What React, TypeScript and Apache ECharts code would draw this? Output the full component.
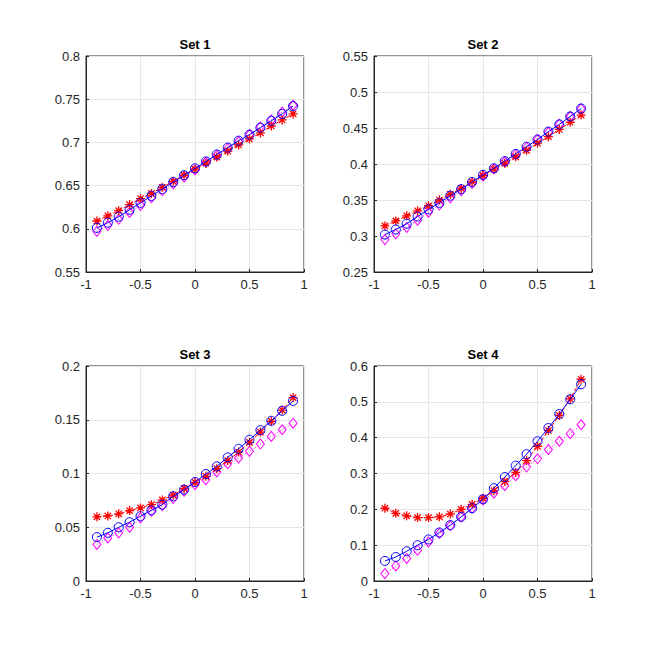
import React, { useEffect, useRef } from "react";
import * as echarts from "echarts";

const xs = [-0.9, -0.8, -0.7, -0.6, -0.5, -0.4, -0.3, -0.2, -0.1, 0, 0.1, 0.2, 0.3, 0.4, 0.5, 0.6, 0.7, 0.8, 0.9];

const titles = ["Set 1", "Set 2", "Set 3", "Set 4"];

const red1 = [0.609, 0.615, 0.621, 0.628, 0.635, 0.641, 0.648, 0.655, 0.662, 0.669, 0.676, 0.683, 0.690, 0.697, 0.704, 0.711, 0.719, 0.726, 0.733];
const blue1 = [0.601, 0.607, 0.614, 0.622, 0.630, 0.638, 0.646, 0.654, 0.662, 0.670, 0.678, 0.686, 0.694, 0.702, 0.709, 0.717, 0.725, 0.733, 0.742];
const mag1 = [0.597, 0.604, 0.611, 0.619, 0.627, 0.636, 0.644, 0.652, 0.660, 0.668, 0.677, 0.685, 0.693, 0.701, 0.709, 0.718, 0.726, 0.735, 0.743];

const red2 = [0.314, 0.321, 0.328, 0.335, 0.342, 0.350, 0.358, 0.366, 0.375, 0.384, 0.393, 0.401, 0.410, 0.419, 0.429, 0.438, 0.448, 0.458, 0.468];
const blue2 = [0.302, 0.309, 0.317, 0.327, 0.337, 0.346, 0.356, 0.365, 0.375, 0.385, 0.394, 0.404, 0.414, 0.424, 0.434, 0.445, 0.455, 0.466, 0.477];
const mag2 = [0.295, 0.303, 0.312, 0.322, 0.333, 0.343, 0.353, 0.363, 0.373, 0.383, 0.393, 0.403, 0.413, 0.423, 0.434, 0.444, 0.455, 0.466, 0.477];

const red3 = [0.0597, 0.0605, 0.0625, 0.0655, 0.068, 0.071, 0.0754, 0.0798, 0.086, 0.0918, 0.0974, 0.1045, 0.112, 0.120, 0.129, 0.1385, 0.1484, 0.159, 0.1706];
const blue3 = [0.0408, 0.0448, 0.050, 0.0547, 0.0603, 0.0658, 0.0711, 0.0788, 0.085, 0.0921, 0.0995, 0.1066, 0.115, 0.123, 0.1314, 0.1403, 0.149, 0.1583, 0.1675];
const mag3 = [0.034, 0.040, 0.0448, 0.050, 0.0587, 0.0649, 0.070, 0.0767, 0.0835, 0.0896, 0.0943, 0.1014, 0.1091, 0.1144, 0.1206, 0.1274, 0.1345, 0.1407, 0.1468];

const red4 = [0.203, 0.189, 0.182, 0.177, 0.177, 0.179, 0.187, 0.200, 0.214, 0.231, 0.252, 0.278, 0.303, 0.336, 0.376, 0.420, 0.462, 0.508, 0.563];
const blue4 = [0.056, 0.067, 0.083, 0.100, 0.116, 0.1355, 0.156, 0.179, 0.203, 0.228, 0.259, 0.290, 0.322, 0.354, 0.390, 0.427, 0.466, 0.507, 0.549];
const mag4 = [0.0206, 0.042, 0.063, 0.086, 0.109, 0.133, 0.154, 0.179, 0.203, 0.226, 0.245, 0.266, 0.294, 0.318, 0.341, 0.367, 0.390, 0.411, 0.436];

const reds = [red1, red2, red3, red4];
const blues = [blue1, blue2, blue3, blue4];
const mags = [mag1, mag2, mag3, mag4];

const yMins = [0.55, 0.25, 0, 0];
const yMaxs = [0.8, 0.55, 0.2, 0.6];
const yIntervals = [0.05, 0.05, 0.05, 0.1];
const xMin = -1;
const xMax = 1;
const xInterval = 0.5;

const FONT = "'Liberation Sans', Arial, Helvetica, sans-serif";
const AXIS_COLOR = "#262626";
const GRID_COLOR = "#e6e6e6";

const ASTERISK = "path://M5,0L5,10M0,5L10,5M1.5,1.5L8.5,8.5M1.5,8.5L8.5,1.5";

export default function App() {
  const ref = useRef<HTMLDivElement>(null);

  useEffect(() => {
    if (!ref.current) return;
    const chart = echarts.init(ref.current, undefined, { renderer: "svg" });

    const lefts = [86, 374, 86, 374];
    const tops = [56, 56, 366, 366];
    const widths = [218, 218, 218, 218];
    const heights = [216, 216, 215, 215];

    const fmt = (v: number) => String(+v.toFixed(3));

    const grids = lefts.map((l, i) => ({
      left: l,
      top: tops[i],
      width: widths[i],
      height: heights[i],
      show: true,
      borderColor: AXIS_COLOR,
      borderWidth: 1,
      backgroundColor: "#fff",
    }));

    const xAxes = lefts.map((_, i) => ({
      type: "value" as const,
      gridIndex: i,
      min: xMin,
      max: xMax,
      interval: xInterval,
      axisLine: { show: true, onZero: false, lineStyle: { color: AXIS_COLOR, width: 1 } },
      axisTick: { show: true, inside: true, length: 3, lineStyle: { color: AXIS_COLOR } },
      axisLabel: { color: AXIS_COLOR, fontFamily: FONT, fontSize: 13, margin: 6, formatter: fmt },
      splitLine: { show: true, lineStyle: { color: GRID_COLOR, width: 1 } },
    }));

    const yAxes = lefts.map((_, i) => ({
      type: "value" as const,
      gridIndex: i,
      min: yMins[i],
      max: yMaxs[i],
      interval: yIntervals[i],
      axisLine: { show: true, onZero: false, lineStyle: { color: AXIS_COLOR, width: 1 } },
      axisTick: { show: true, inside: true, length: 3, lineStyle: { color: AXIS_COLOR } },
      axisLabel: { color: AXIS_COLOR, fontFamily: FONT, fontSize: 13, margin: 6, formatter: fmt },
      splitLine: { show: true, lineStyle: { color: GRID_COLOR, width: 1 } },
    }));

    const series: any[] = [];
    for (let i = 0; i < 4; i++) {
      series.push({
        type: "line",
        xAxisIndex: i,
        yAxisIndex: i,
        data: xs.map((x, k) => [x, mags[i][k]]),
        symbol: "diamond",
        symbolSize: [8, 10],
        lineStyle: { color: "#ff00ff", width: 1, type: [1, 2] },
        itemStyle: { color: "rgba(255,255,255,0)", borderColor: "#ff00ff", borderWidth: 1 },
        z: 2,
      });
      series.push({
        type: "line",
        xAxisIndex: i,
        yAxisIndex: i,
        data: xs.map((x, k) => [x, reds[i][k]]),
        symbol: ASTERISK,
        symbolSize: 9,
        lineStyle: { color: "#ff0000", width: 1, type: [4, 2] },
        itemStyle: { color: "#ff0000", borderColor: "#ff0000", borderWidth: 1.3 },
        z: 3,
      });
      series.push({
        type: "line",
        xAxisIndex: i,
        yAxisIndex: i,
        data: xs.map((x, k) => [x, blues[i][k]]),
        symbol: "circle",
        symbolSize: 9,
        lineStyle: { color: "#0000ff", width: 1 },
        itemStyle: { color: "rgba(255,255,255,0)", borderColor: "#0000ff", borderWidth: 1 },
        z: 4,
      });
    }

    const titleOpts = titles.map((t, i) => ({
      text: t,
      left: lefts[i] + widths[i] / 2,
      top: tops[i] - 18,
      textAlign: "center" as const,
      textStyle: { fontFamily: FONT, fontSize: 13, fontWeight: "bold" as const, color: "#000" },
      padding: 0,
    }));

    chart.setOption({
      animation: false,
      backgroundColor: "#fff",
      title: titleOpts,
      grid: grids,
      xAxis: xAxes,
      yAxis: yAxes,
      series,
    });

    return () => chart.dispose();
  }, []);

  return (
    <div
      ref={ref}
      style={{ position: "absolute", left: 0, top: 0, width: 654, height: 654, background: "#fff" }}
    />
  );
}
